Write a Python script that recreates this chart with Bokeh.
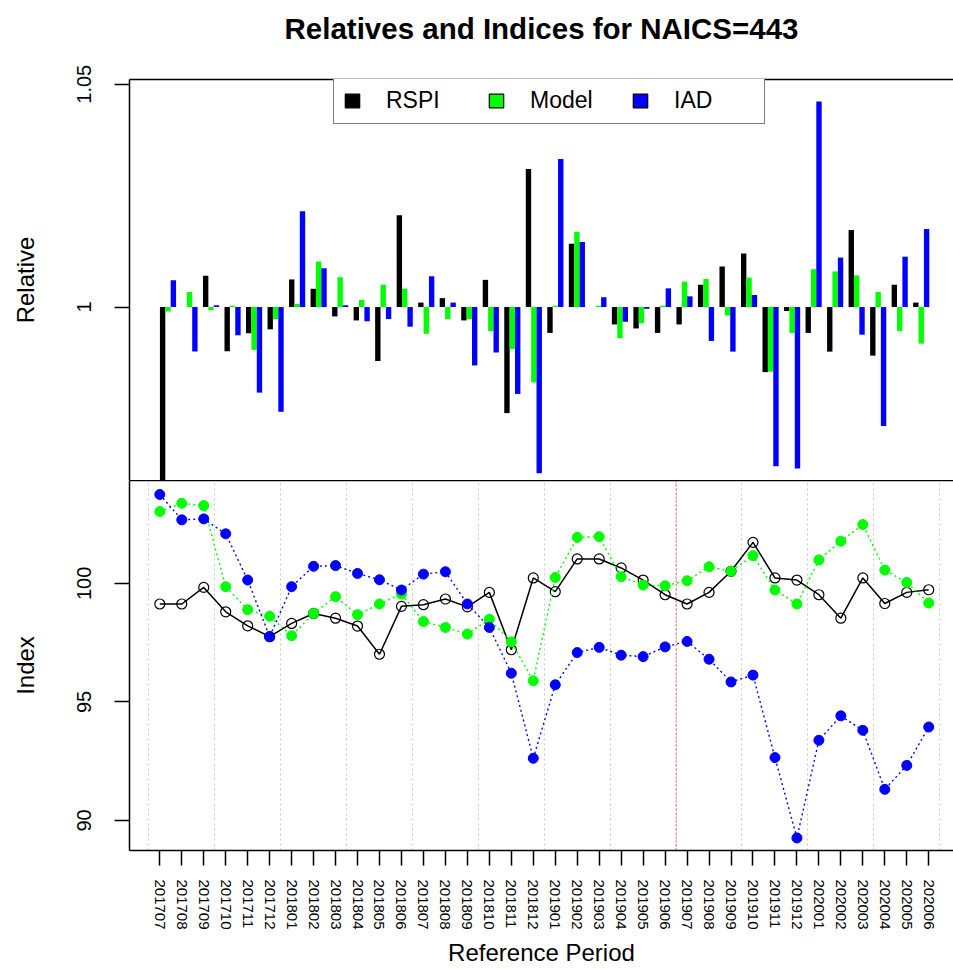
import numpy as np
from bokeh.plotting import figure
from bokeh.models import (FixedTicker, NumeralTickFormatter, LinearAxis, Span, Legend,
                          LegendItem, Range1d, ColumnDataSource)
from bokeh.layouts import column
from bokeh.embed import file_html
from bokeh.resources import INLINE

FONT = "Liberation Sans"
TITLE = "Relatives and Indices for NAICS=443"

periods = ["201707", "201708", "201709", "201710", "201711", "201712",
           "201801", "201802", "201803", "201804", "201805", "201806",
           "201807", "201808", "201809", "201810", "201811", "201812",
           "201901", "201902", "201903", "201904", "201905", "201906",
           "201907", "201908", "201909", "201910", "201911", "201912",
           "202001", "202002", "202003", "202004", "202005", "202006"]

rspi_rel = [0.953, 1.0, 1.007, 0.9901, 0.9941, 0.995, 1.0062, 1.0041, 0.9979, 0.997,
            0.9879, 1.0206, 1.001, 1.002, 0.997, 1.0061, 0.9762, 1.031, 0.9942, 1.0142,
            1.0, 0.9961, 0.9952, 0.9942, 0.9961, 1.005, 1.0091, 1.012, 0.9854, 0.9991,
            0.9942, 0.99, 1.0173, 0.9891, 1.005, 1.001]
model_rel = [0.999, 1.0034, 0.9993, 1.0003, 0.9904, 0.9973, 1.0007, 1.0102, 1.0067, 1.0016,
             1.005, 1.0041, 0.994, 0.9973, 0.9973, 0.9946, 0.9906, 0.9831, 1.0003, 1.0169,
             1.0003, 0.993, 0.9964, 1.0003, 1.0057, 1.0063, 0.9981, 1.0066, 0.9855, 0.9942,
             1.0085, 1.008, 1.0071, 1.0034, 0.9946, 0.9918]
iad_rel = [1.006, 0.99, 1.0004, 0.9937, 0.9808, 0.9765, 1.0215, 1.0087, 1.0004, 0.9968,
           0.9973, 0.9956, 1.0069, 1.001, 0.9869, 0.9898, 0.9805, 0.9627, 1.0332, 1.0146,
           1.0022, 0.9967, 0.9996, 1.0042, 1.0024, 0.9924, 0.99, 1.0027, 0.9643, 0.9638,
           1.0461, 1.0111, 0.9938, 0.9733, 1.0113, 1.0175]

rspi_idx = [99.13, 99.13, 99.83, 98.80, 98.21, 97.75, 98.31, 98.73, 98.53, 98.20,
            97.01, 99.03, 99.10, 99.34, 99.01, 99.62, 97.20, 100.23, 99.65, 101.03,
            101.03, 100.65, 100.14, 99.52, 99.13, 99.62, 100.51, 101.73, 100.23, 100.14,
            99.52, 98.53, 100.23, 99.15, 99.62, 99.73]
model_idx = [103.03, 103.38, 103.28, 99.86, 98.89, 98.61, 97.79, 98.73, 99.44, 98.68,
             99.13, 99.55, 98.39, 98.14, 97.86, 98.49, 97.53, 95.89, 100.25, 101.94,
             101.97, 100.28, 99.93, 99.90, 100.11, 100.70, 100.51, 101.17, 99.72, 99.13,
             100.99, 101.78, 102.48, 100.56, 100.04, 99.17]
iad_idx = [103.75, 102.68, 102.72, 102.09, 100.14, 97.75, 99.86, 100.72, 100.75, 100.42,
           100.15, 99.72, 100.39, 100.49, 99.13, 98.14, 96.21, 92.62, 95.72, 97.08,
           97.30, 96.97, 96.91, 97.32, 97.55, 96.80, 95.84, 96.13, 92.65, 89.26,
           93.38, 94.41, 93.80, 91.31, 92.32, 93.94]

series_names = ["RSPI", "Model", "IAD"]
series_colors = ["#000000", "#00FF00", "#0000FF"]

idx = np.arange(1, len(periods) + 1)
BAR_W = 0.25

# ---------------- top panel: relatives ----------------
top = figure(width=953, height=480, output_backend="svg", toolbar_location=None,
             x_range=Range1d(-0.789, 37.50), y_range=Range1d(0.96108, 1.05106),
             x_axis_location=None, y_axis_location="left",
             min_border_left=129, min_border_right=0, min_border_top=79, min_border_bottom=0)
top.outline_line_color = None
top.grid.visible = False
top.background_fill_color = "white"
top.border_fill_color = "white"

bar_src = ColumnDataSource(dict(x0=idx - BAR_W, x1=idx, x2=idx + BAR_W,
                                rspi=rspi_rel, model=model_rel, iad=iad_rel))
for xcol, ycol, c in zip(["x0", "x1", "x2"], ["rspi", "model", "iad"], series_colors):
    top.vbar(x=xcol, width=BAR_W, bottom=1.0, top=ycol, source=bar_src,
             fill_color=c, line_color=None)

# legend swatches (black-bordered boxes as in the original legend); the glyphs sit off-data
leg_items = []
for name, c in zip(series_names, series_colors):
    r = top.vbar(x=[float("nan")], width=BAR_W, bottom=[float("nan")], top=[float("nan")],
                 fill_color=c, line_color="black", line_width=1.2)
    leg_items.append(LegendItem(label=name, renderers=[r]))
legend = Legend(items=leg_items, orientation="horizontal", location=(204, 356),
                glyph_width=18, glyph_height=17, label_standoff=25, label_width=81,
                spacing=20, padding=9, margin=0,
                label_text_font=FONT, label_text_font_size="23px", label_text_color="black",
                border_line_color="black", border_line_width=1.2,
                background_fill_color="white", background_fill_alpha=1.0)
top.add_layout(legend)

yax = top.yaxis[0]
yax.ticker = FixedTicker(ticks=[1.0, 1.05])
yax.formatter = NumeralTickFormatter(format="0.[00]")
yax.axis_label = "Relative"

# top border of the box, carrying the chart title above it
top_border = LinearAxis(ticker=FixedTicker(ticks=[]), major_tick_line_color=None,
                        minor_tick_line_color=None, major_label_text_font_size="0px",
                        major_tick_out=0, major_tick_in=0, major_label_standoff=0,
                        axis_line_color="black", axis_line_width=1.5,
                        axis_label=TITLE, axis_label_text_font=FONT,
                        axis_label_text_font_size="29.5px", axis_label_text_font_style="bold",
                        axis_label_text_color="black", axis_label_standoff=35)
top.add_layout(top_border, "above")

# ---------------- bottom panel: indices ----------------
bot = figure(width=953, height=489, output_backend="svg", toolbar_location=None,
             x_range=Range1d(-0.379, 37.127), y_range=Range1d(88.73, 104.34),
             min_border_left=129, min_border_right=0, min_border_top=0, min_border_bottom=119)
bot.outline_line_color = None
bot.background_fill_color = "white"
bot.border_fill_color = "white"
bot.ygrid.grid_line_color = None

quarter_edges = [float(i) - 0.5 for i, p in zip(idx, periods) if int(p[4:]) in (1, 4, 7, 10)]
quarter_edges.append(float(idx[-1]) + 0.5)
bot.xgrid.ticker = FixedTicker(ticks=quarter_edges)
bot.xgrid.grid_line_color = "#C8C8C8"
bot.xgrid.grid_line_dash = "2 3"
bot.xgrid.grid_line_width = 1

split_pos = float(idx[periods.index("201907")]) - 0.5
bot.add_layout(Span(location=split_pos, dimension="height", line_color="#FF0000",
                    line_alpha=0.55, line_dash="2 2", line_width=1.2))

bot.line(idx, rspi_idx, line_color="black", line_width=1.5)
bot.scatter(idx, rspi_idx, marker="circle", size=10, fill_color=None,
            line_color="black", line_width=1.2)
bot.line(idx, model_idx, line_color="#00FF00", line_width=1.4, line_dash="2 3")
bot.scatter(idx, model_idx, marker="circle", size=10, fill_color="#00FF00", line_color="#00FF00")
bot.line(idx, iad_idx, line_color="#0000FF", line_width=1.4, line_dash="2 3")
bot.scatter(idx, iad_idx, marker="circle", size=10, fill_color="#0000FF", line_color="#0000FF")

xax = bot.xaxis[0]
xax.ticker = FixedTicker(ticks=[int(i) for i in idx])
xax.major_label_overrides = {int(i): p for i, p in zip(idx, periods)}
xax.major_label_orientation = "vertical"
xax.major_label_text_font_size = "15px"
xax.major_label_standoff = 14
xax.axis_label = "Reference Period"
xax.axis_label_text_font_size = "24px"
xax.axis_label_text_font_style = "normal"
xax.axis_label_standoff = 6

yb = bot.yaxis[0]
yb.ticker = FixedTicker(ticks=[90, 95, 100])
yb.axis_label = "Index"

bot_border = LinearAxis(ticker=FixedTicker(ticks=[]), major_tick_line_color=None,
                        minor_tick_line_color=None, major_label_text_font_size="0px",
                        major_tick_out=0, major_tick_in=0,
                        major_label_standoff=0, axis_line_color="black", axis_line_width=1.5)
bot.add_layout(bot_border, "above")

for ax in [yax, yb]:
    ax.major_label_orientation = "vertical"
    ax.major_label_text_font_size = "20px"
    ax.major_label_standoff = 23
    ax.axis_label_text_font_size = "24px"
    ax.axis_label_text_font_style = "normal"
    ax.axis_label_standoff = 36

for ax in [yax, yb, xax]:
    ax.major_label_text_font = FONT
    ax.major_label_text_color = "black"
    ax.axis_label_text_font = FONT
    ax.axis_label_text_color = "black"
    ax.axis_line_color = "black"
    ax.axis_line_width = 1.5
    ax.major_tick_line_color = "black"
    ax.major_tick_line_width = 1.5
    ax.major_tick_out = 15
    ax.major_tick_in = 0
    ax.minor_tick_line_color = None

layout = column(top, bot)
open("out.html", "w").write(file_html(layout, INLINE))
